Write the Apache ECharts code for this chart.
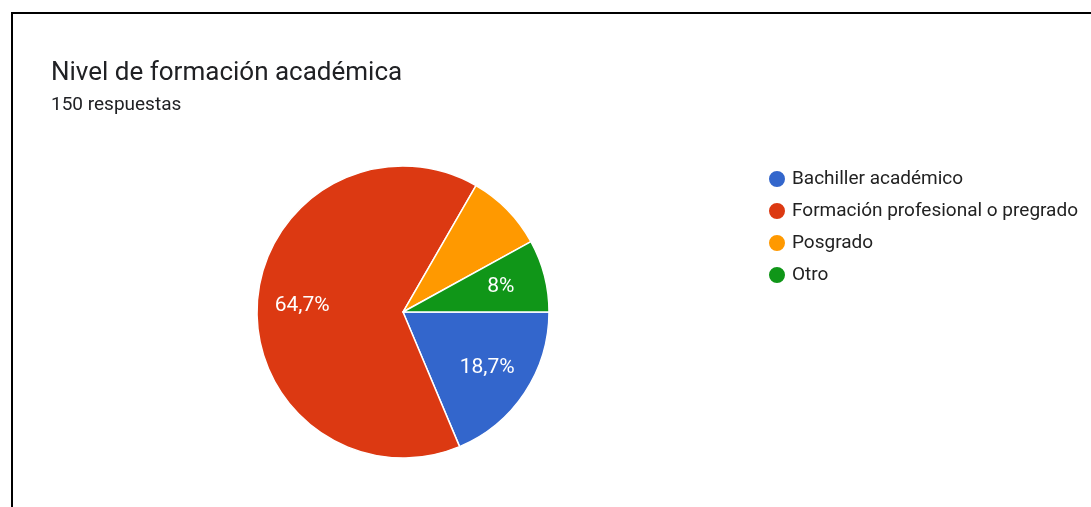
<!DOCTYPE html>
<html>
<head>
<meta charset="utf-8">
<script src="https://cdn.jsdelivr.net/npm/echarts@6/dist/echarts.min.js"></script>
<style>
  html, body { margin: 0; padding: 0; background: #fff; }
  #frame { position: absolute; left: 11px; top: 12px; right: -10px; bottom: -10px;
           border-top: 2px solid #000; border-left: 2px solid #000; }
  #main { position: absolute; left: 0; top: 0; width: 1091px; height: 507px; }
</style>
</head>
<body>
<div id="frame"></div>
<div id="main"></div>
<script>
var categories = ['Bachiller académico', 'Formación profesional o pregrado', 'Posgrado', 'Otro'];
var counts = [28, 97, 13, 12];
var colors = ['#3366cc', '#dc3912', '#ff9900', '#109618'];
var total = 150;
// slices whose percentage label is hidden in the original
var hiddenLabels = ['Posgrado'];

var myChart = echarts.init(document.getElementById('main'));

var data = categories.map(function (name, i) {
    return { name: name, value: counts[i], itemStyle: { color: colors[i] } };
});

function pctLabel(p) {
    if (hiddenLabels.indexOf(p.name) >= 0) return '';
    var v = Math.round(p.value / total * 1000) / 10;
    return String(v).replace('.', ',') + '%';
}

var option = {
    animation: false,
    textStyle: { fontFamily: 'Roboto' },
    title: {
        text: 'Nivel de formación académica',
        subtext: '150 respuestas',
        left: 46,
        top: 55,
        itemGap: 10,
        textStyle: { fontSize: 26, fontWeight: 'normal', color: '#202124', fontFamily: 'Roboto' },
        subtextStyle: { fontSize: 19, color: '#202124', fontFamily: 'Roboto' }
    },
    legend: {
        orient: 'vertical',
        left: 762,
        top: 164,
        icon: 'circle',
        itemWidth: 18,
        itemHeight: 18,
        itemGap: 12,
        data: categories,
        textStyle: { fontSize: 19, color: '#222', fontFamily: 'Roboto', padding: [0, 0, 0, 1] }
    },
    series: [{
        type: 'pie',
        center: [403, 312],
        radius: [0, 146],
        startAngle: 0,
        clockwise: true,
        data: data,
        label: { show: false },
        labelLine: { show: false },
        itemStyle: { borderColor: '#fff', borderWidth: 1.5 },
        emphasis: { scale: false }
    }, {
        type: 'pie',
        silent: true,
        center: [403, 312],
        radius: [50, 146],
        startAngle: 0,
        clockwise: true,
        data: data.map(function (d) {
            return { name: d.name, value: d.value, itemStyle: { color: 'transparent' } };
        }),
        label: {
            show: true,
            position: 'inside',
            color: '#fff',
            fontSize: 21,
            fontFamily: 'Roboto',
            formatter: pctLabel
        },
        labelLine: { show: false }
    }]
};
myChart.setOption(option);
</script>
</body>
</html>
